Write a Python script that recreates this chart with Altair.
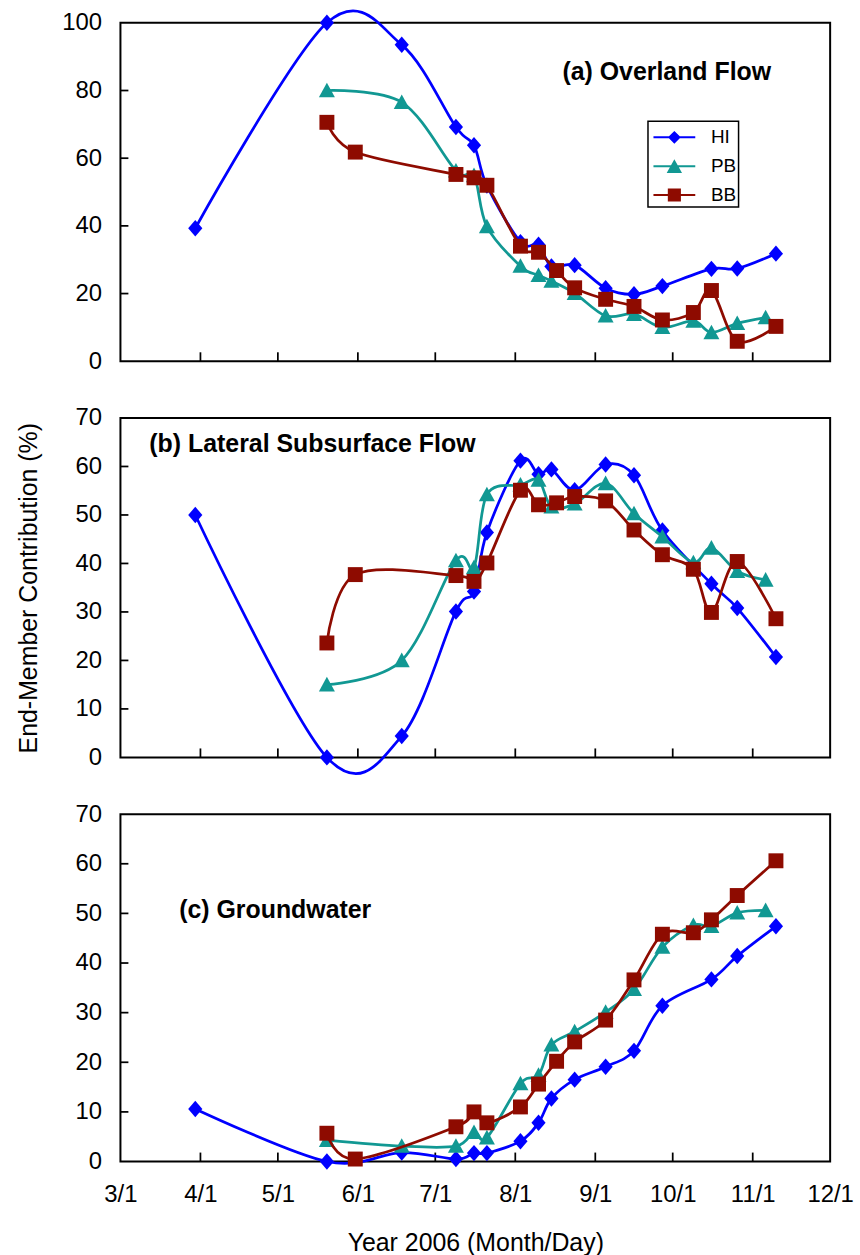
import altair as alt
import pandas as pd

SERIES = ["HI", "PB", "BB"]
COLORS = ["#0000ff", "#119893", "#8e0b00"]

# sampling dates (year 2006)
HI_DATES = ["2006-03-30", "2006-05-20", "2006-06-18", "2006-07-09", "2006-07-16", "2006-07-21",
            "2006-08-03", "2006-08-10", "2006-08-15", "2006-08-24", "2006-09-05", "2006-09-16",
            "2006-09-27", "2006-10-16", "2006-10-26", "2006-11-10"]
PB_DATES = ["2006-05-20", "2006-06-18", "2006-07-09", "2006-07-16", "2006-07-21", "2006-08-03",
            "2006-08-10", "2006-08-15", "2006-08-24", "2006-09-05", "2006-09-16", "2006-09-27",
            "2006-10-09", "2006-10-16", "2006-10-26", "2006-11-06"]
BB_DATES = ["2006-05-20", "2006-05-31", "2006-07-09", "2006-07-16", "2006-07-21", "2006-08-03",
            "2006-08-10", "2006-08-17", "2006-08-24", "2006-09-05", "2006-09-16", "2006-09-27",
            "2006-10-09", "2006-10-16", "2006-10-26", "2006-11-10"]

# (a) Overland flow
HI_A = [39.3, 100, 93.5, 69.2, 63.8, 51.9, 35.2, 34.4, 28.0, 28.4, 21.6, 19.8, 22.2, 27.3, 27.4, 31.8]
PB_A = [80.0, 76.5, 56.3, 54.9, 39.8, 28.1, 25.4, 23.7, 20.1, 13.4, 13.9, 10.0, 11.9, 8.5, 11.2, 12.9]
BB_A = [70.6, 61.8, 55.2, 54.2, 52.0, 34.0, 32.2, 26.8, 21.7, 18.3, 16.2, 12.2, 14.4, 20.9, 5.9, 10.3]
# (b) Lateral subsurface flow
HI_B = [50.0, 0.0, 4.4, 30.1, 34.2, 46.4, 61.2, 58.4, 59.4, 55.1, 60.4, 58.2, 46.8, 35.8, 30.8, 20.7]
PB_B = [15.0, 20.0, 40.6, 39.2, 54.2, 56.2, 57.2, 51.7, 52.3, 56.5, 50.3, 45.5, 40.2, 43.2, 38.4, 36.6]
BB_B = [23.6, 37.7, 37.5, 36.3, 40.1, 55.1, 52.1, 52.5, 53.8, 52.9, 46.9, 41.8, 38.8, 29.9, 40.4, 28.6]
# (c) Groundwater
HI_C = [10.6, 0.0, 1.8, 0.5, 1.7, 1.7, 4.1, 7.8, 12.7, 16.5, 19.1, 22.3, 31.4, 36.7, 41.4, 47.4]
PB_C = [4.3, 3.1, 3.1, 5.9, 4.8, 15.7, 17.4, 23.5, 26.2, 30.1, 34.7, 43.2, 47.6, 47.4, 50.1, 50.6]
BB_C = [5.7, 0.5, 7.0, 10.0, 7.8, 11.0, 15.6, 20.2, 24.1, 28.5, 36.6, 45.8, 46.1, 48.7, 53.6, 60.6]

MONTH_TICKS = ["2006-04-01", "2006-05-01", "2006-06-01", "2006-07-01", "2006-08-01",
               "2006-09-01", "2006-10-01", "2006-11-01"]
Y_TICKS_A = [0, 20, 40, 60, 80, 100]
Y_TICKS_BC = [0, 10, 20, 30, 40, 50, 60, 70]

DATES = {"HI": HI_DATES, "PB": PB_DATES, "BB": BB_DATES}

FONT = "Liberation Sans"
W = 713
MARKER = {
    "HI": "M0,-1.1L0.95,0L0,1.1L-0.95,0Z",
    "PB": "M0,-1.05L1.07,0.9L-1.07,0.9Z",
    "BB": "M-1,-1L1,-1L1,1L-1,1Z",
}
LEGEND_PATHS = [
    "M-1.5,-0.07L1.5,-0.07L1.5,0.07L-1.5,0.07Z M0,-0.46L0.46,0L0,0.46L-0.46,0Z",
    "M-1.5,-0.07L1.5,-0.07L1.5,0.07L-1.5,0.07Z M0,-0.5L0.55,0.5L-0.55,0.5Z",
    "M-1.5,-0.07L1.5,-0.07L1.5,0.07L-1.5,0.07Z M-0.47,-0.47L0.47,-0.47L0.47,0.47L-0.47,0.47Z",
]

x_scale = alt.Scale(type="utc",
                    domain=[alt.DateTime(year=2006, month=3, date=1, utc=True),
                            alt.DateTime(year=2006, month=12, date=1, utc=True)])
x_values = [alt.DateTime(year=2006, month=m, date=1, utc=True) for m in range(3, 13)]


def panel(vals, ymax, ylabels, H, label, tx, ty, bottom_axis, ytitle, legend):
    if bottom_axis:
        xax = alt.Axis(values=x_values, format="%-m/%-d", ticks=False, tickSize=0, domain=False,
                       grid=False, labelPadding=21, labelFontSize=24, labelFont=FONT,
                       labelColor="black", labelFlush=False, labelOverlap=False,
                       title="Year 2006 (Month/Day)", titleFontSize=25,
                       titleFont=FONT, titleFontWeight="normal", titleColor="black",
                       titlePadding=24)
    else:
        xax = None
    X = alt.X("date:T", scale=x_scale, axis=xax)
    yax_kwargs = dict(values=ylabels, ticks=False, tickSize=0, domain=False, grid=False,
                      labelPadding=19, labelFontSize=24, labelFont=FONT, labelColor="black",
                      labelFlush=False)
    if ytitle:
        yax = alt.Axis(title=ytitle, titleFontSize=25, titleFont=FONT, titleFontWeight="normal",
                       titleColor="black", titlePadding=34, **yax_kwargs)
    else:
        yax = alt.Axis(title=None, **yax_kwargs)
    Y = alt.Y("value:Q", scale=alt.Scale(domain=[0, ymax], nice=False), axis=yax)

    layers = []
    # inward tick marks
    xt = pd.DataFrame({"date": MONTH_TICKS})
    layers.append(alt.Chart(xt).mark_rule(color="black", strokeWidth=1.75).encode(
        x=X, y=alt.value(H), y2=alt.value(H - 9)))
    yt = pd.DataFrame({"value": [v for v in ylabels if 0 < v < ymax]})
    layers.append(alt.Chart(yt).mark_rule(color="black", strokeWidth=1.75).encode(
        y=Y, x=alt.value(0), x2=alt.value(8)))

    for s, c in zip(SERIES, COLORS):
        df = pd.DataFrame({"date": DATES[s], "value": vals[s]})
        base = alt.Chart(df)
        layers.append(base.mark_line(interpolate="cardinal", tension=0, color=c,
                                     strokeWidth=2.75).encode(x=X, y=Y))
        layers.append(base.mark_point(filled=True, shape=MARKER[s], size=225, color=c,
                                      opacity=1, strokeWidth=0).encode(x=X, y=Y))

    if legend:
        rows = []
        for s in SERIES:
            for d, v in zip(DATES[s], vals[s]):
                rows.append({"series": s, "date": d, "value": v})
        ldf = pd.DataFrame(rows)
        leg = alt.Legend(orient="none", legendX=530, legendY=99, title=None, padding=2,
                         rowPadding=5, symbolSize=784, symbolOffset=10.5, labelOffset=22.7,
                         labelFontSize=19, labelFont=FONT, labelColor="black",
                         strokeColor="black", fillColor="white", symbolOpacity=1,
                         symbolStrokeWidth=0)
        layers.append(alt.Chart(ldf).mark_point(filled=True, opacity=0, size=784).encode(
            x=X, y=Y,
            color=alt.Color("series:N", scale=alt.Scale(domain=SERIES, range=COLORS), legend=leg),
            shape=alt.Shape("series:N", scale=alt.Scale(domain=SERIES, range=LEGEND_PATHS),
                            legend=leg)))

    layers.append(alt.Chart(pd.DataFrame({"t": [label]})).mark_text(
        align="left", baseline="alphabetic", font=FONT, fontSize=25, fontWeight="bold",
        color="black").encode(x=alt.value(tx), y=alt.value(ty), text="t:N"))

    return alt.layer(*layers).properties(
        width=W, height=H,
        view=alt.ViewBackground(stroke="black", strokeWidth=2, fill="white"))


pa = panel({"HI": HI_A, "PB": PB_A, "BB": BB_A}, 100, Y_TICKS_A, 340,
           "(a) Overland Flow", 444, 57, False, None, True)
pb = panel({"HI": HI_B, "PB": PB_B, "BB": BB_B}, 70, Y_TICKS_BC, 341,
           "(b) Lateral Subsurface Flow", 29, 34, False, "End-Member Contribution (%)", False)
pc = panel({"HI": HI_C, "PB": PB_C, "BB": BB_C}, 70, Y_TICKS_BC, 349,
           "(c) Groundwater", 59, 104, True, None, False)

top = alt.vconcat(pa, pb, spacing=31).resolve_scale(color="independent", shape="independent")
chart = alt.vconcat(top, pc, spacing=21).resolve_scale(
    color="independent", shape="independent"
).properties(
    padding={"left": 15, "top": 1, "right": 5, "bottom": 0},
    background="white",
).configure(font=FONT).configure_view(
    stroke="black", strokeWidth=2
).configure_legend(strokeWidth=1.5)

chart.save("out.html", embed_options={"renderer": "svg", "actions": False})
